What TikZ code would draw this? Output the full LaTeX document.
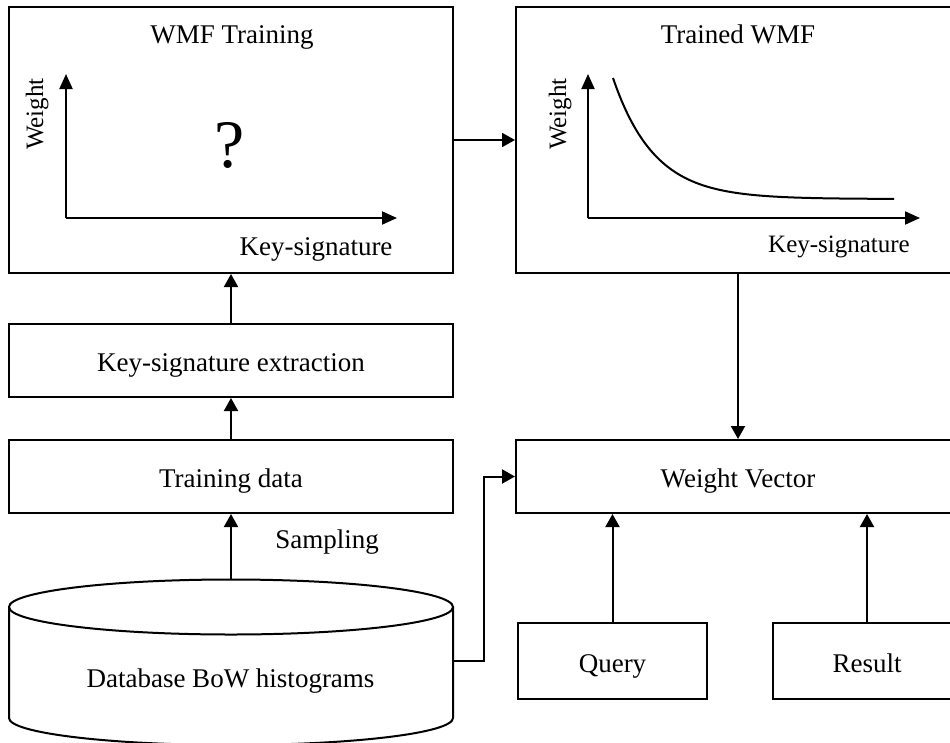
\documentclass[tikz,border=0pt]{standalone}
\usepackage{fontspec}
\setmainfont{Liberation Serif}
\usetikzlibrary{arrows.meta}
\begin{document}
\begin{tikzpicture}[x=1pt,y=-1pt,
  every node/.style={font=\fontsize{27}{32}\selectfont},
  box/.style={draw, line width=2pt, inner sep=0pt, text height=22pt, text depth=0pt},
  conn/.style={line width=2pt, -{Triangle[length=13pt,width=14pt]}},
  axis/.style={line width=2pt, -{Triangle[length=15pt,width=13pt]}},
  small/.style={font=\fontsize{25}{30}\selectfont}]
\useasboundingbox (0,0) rectangle (950,742);
\clip (0,0) rectangle (950,742);

% main blocks
\node[box, minimum width=444pt, minimum height=266pt] (train) at (231,140) {};
\node[box, minimum width=444pt, minimum height=266pt] (trained) at (738,140) {};
\node[box, minimum width=444pt, minimum height=73pt] (extract) at (231,360.5) {Key-signature extraction};
\node[box, minimum width=444pt, minimum height=73pt] (data) at (231,476.5) {Training data};
\node[box, minimum width=444pt, minimum height=73pt] (wvec) at (738,476.5) {Weight Vector};
\node[box, minimum width=189pt, minimum height=76pt] (query) at (612.5,661) {Query};
\node[box, minimum width=188pt, minimum height=76pt] (result) at (867,661) {Result};

% WMF training panel
\node[anchor=base] (t1) at (232,43) {WMF Training};
\coordinate (o1) at (66,218);
\draw[axis] (o1) -- (66,74);
\draw[axis] (o1) -- (397,218);
\node[small, rotate=90, anchor=base] (w1) at (43,114) {Weight};
\node[anchor=base] (k1) at (316,255) {Key-signature};
\node[font=\fontsize{68}{80}\selectfont] (q) at (230,145) {?};

% trained WMF panel
\node[anchor=base] (t2) at (738,43) {Trained WMF};
\coordinate (o2) at (588,218);
\draw[axis] (o2) -- (588,74);
\draw[axis] (o2) -- (920,218);
\node[small, rotate=90, anchor=base] (w2) at (566,114) {Weight};
\node[small, anchor=base] (k2) at (839,252) {Key-signature};
\draw[line width=2pt] plot[domain=613:894, samples=100, smooth] (\x,{199-121*exp(-(\x-613)/41.3)});

% database cylinder
\draw[line width=2pt] (231,607) ellipse [x radius=222, y radius=27.5];
\draw[line width=2pt] (9,607) -- (9,718) arc[start angle=180, end angle=0, x radius=222, y radius=27] -- (453,607);
\node[anchor=base] (db) at (230.5,687) {Database BoW histograms};
\coordinate (dbtop) at (231,579.5);
\coordinate (dbright) at (453,661);
\node[anchor=base] (samp) at (327,548) {Sampling};

% connectors
\draw[conn] (train.east) -- (trained.west);
\draw[conn] (extract.north) -- (train.south);
\draw[conn] (data.north) -- (extract.south);
\draw[conn] (dbtop) -- (data.south);
\draw[conn] (trained.south) -- (wvec.north);
\draw[conn] (query.north) -- (query.north |- wvec.south);
\draw[conn] (result.north) -- (result.north |- wvec.south);
\draw[conn] (dbright) -- ++(31,0) |- (wvec.west);
\end{tikzpicture}
\end{document}
